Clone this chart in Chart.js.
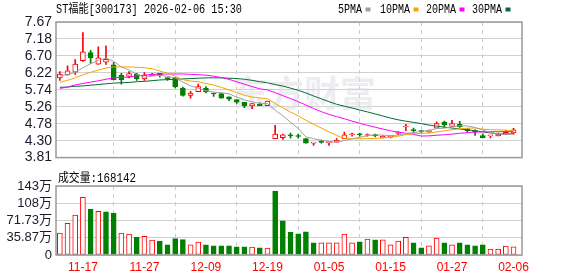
<!DOCTYPE html>
<html><head><meta charset="utf-8">
<script src="https://cdn.jsdelivr.net/npm/chart.js@4.4.1/dist/chart.umd.min.js"></script>
<style>
html,body{margin:0;padding:0;background:#fff;}
#wrap{position:relative;width:578px;height:276px;overflow:hidden;background:#fff;}
#c1{position:absolute;left:0;top:0;}
#c2{position:absolute;left:0;top:170px;}
</style></head><body>
<div id="wrap">
<canvas id="c1" width="578" height="170"></canvas>
<canvas id="c2" width="578" height="106"></canvas>
</div>
<script>
// ---------- data ----------
const stockTitle = 'ST福能[300173] 2026-02-06 15:30';
const dates = ['11-12','11-13','11-14','11-17','11-18','11-19','11-20','11-21','11-24','11-25','11-26','11-27','11-28','12-01','12-02','12-03','12-04','12-05','12-08','12-09','12-10','12-11','12-12','12-15','12-16','12-17','12-18','12-19','12-23','12-24','12-25','12-26','12-29','12-30','12-31','01-05','01-06','01-07','01-08','01-09','01-12','01-13','01-14','01-15','01-16','01-19','01-20','01-21','01-22','01-23','01-26','01-27','01-28','01-29','01-30','02-02','02-03','02-04','02-05','02-06'];
const tickDates = ['11-17','11-27','12-09','12-19','01-05','01-15','01-27','02-06'];
const opens = [6.08,6.17,6.24,6.57,6.80,6.47,6.53,6.45,6.15,6.12, 6.19,6.05,6.14,6.21,6.08,6.08,5.79,5.58,5.69,5.78, 5.65,5.63,5.54,5.46,5.38,5.28,5.33,5.29,4.35,4.38, 4.44,4.42,4.35,4.22,4.27,4.235,4.25,4.35,4.46,4.47, 4.44,4.445,4.37,4.39,4.50,4.68,4.59,4.56,4.54,4.645, 4.82,4.70,4.76,4.63,4.56,4.44,4.43,4.43,4.47,4.51];
const highs = [6.26,6.42,6.60,7.37,6.86,6.96,6.99,6.52,6.21,6.26, 6.21,6.23,6.21,6.21,6.08,6.09,5.82,5.70,5.90,5.83, 5.65,5.63,5.54,5.46,5.38,5.35,5.37,5.42,4.73,4.48, 4.51,4.48,4.35,4.23,4.31,4.24,4.35,4.54,4.51,4.51, 4.49,4.48,4.44,4.42,4.55,4.76,4.65,4.58,4.59,4.83, 4.85,4.87,4.84,4.63,4.60,4.49,4.435,4.51,4.58,4.64];
const lows = [6.01,6.16,6.18,6.55,6.49,6.46,6.46,6.02,5.90,6.08, 6.01,6.01,6.14,6.10,6.01,5.79,5.56,5.50,5.69,5.65, 5.55,5.50,5.43,5.35,5.23,5.20,5.29,5.29,4.35,4.33, 4.36,4.36,4.22,4.16,4.22,4.16,4.25,4.35,4.42,4.42, 4.42,4.40,4.37,4.37,4.46,4.58,4.51,4.52,4.52,4.645, 4.67,4.70,4.67,4.53,4.44,4.37,4.37,4.43,4.47,4.48];
const closes = [6.19,6.28,6.47,6.82,6.65,6.65,6.61,6.03,6.03,6.20, 6.06,6.16,6.19,6.15,6.06,5.82,5.58,5.65,5.83,5.69, 5.62,5.50,5.47,5.39,5.28,5.35,5.29,5.42,4.48,4.46, 4.43,4.41,4.22,4.23,4.24,4.24,4.31,4.46,4.47,4.46, 4.46,4.435,4.42,4.41,4.52,4.69,4.58,4.55,4.58,4.78, 4.74,4.78,4.69,4.58,4.55,4.37,4.435,4.48,4.53,4.60];
// volume in 万 (10k lots)
const volumes = [45.5,66,83,120,95,91,90,87,45.5,43.5, 37,39,31,29,21,34,32,21,27,21, 19,19,19,17,17,16.5,15,14.5,133,71, 47,44,48,25.5,25.5,25.5,25.5,43.5,25.5,27.5, 33,31.7,31.7,21.3,29,37,25.5,15,19,35, 25.5,21.3,25.5,21.3,19,21.3,12.4,12.4,18.6,16.8142];
// volume bar direction (1 = up/red, 0 = down/green)
const volUp = [1,1,1,1,0,1,0,0,1,1, 0,1,1,0,0,0,0,1,1,0, 0,0,0,0,0,1,0,1,0,0, 0,0,0,0,1,1,1,1,1,0, 1,0,1,1,1,1,0,0,1,1, 0,1,0,0,0,0,1,1,1,1];
// moving-average values before a full window exists
const ma5Lead = [6.14,6.17,6.24,6.37];
const ma10Lead = [5.95,6.01,6.08,6.165,6.24,6.30,6.36,6.39,6.39];
const ma20Lead = [5.78,5.815,5.88,5.92,5.96,5.995,6.04,6.08,6.095,6.10,6.138,6.157,6.18,6.19,6.19,6.19,6.19,6.18,6.17];
const ma30Lead = [5.81,5.82,5.84,5.85,5.87,5.89,5.91,5.93,5.94,5.95,5.97,5.98,6.00,6.02,6.03,6.04,6.05,6.06,6.07,6.08,6.08,6.08,6.07,6.06,6.04,6.01,5.97,5.94,5.89];
const priceLabels = ['3.81','4.30','4.78','5.26','5.74','6.22','6.70','7.18','7.67'];
const priceMin = 3.81, priceMax = 7.67;
const volLabels = ['0','35.87万','71.73万','108万','143万'];
const volMax = 143.48;
const maNames = ['5PMA','10PMA','20PMA','30PMA'];

// ---------- derived ----------
const RED = '#ff0000', GREEN = '#008000';
const MA_COLORS = ['#a0a0a0','#f5a500','#ff00ff','#006b35'];
const idx = dates.map((d,i)=>i);
const tickIdx = tickDates.map(d=>dates.indexOf(d));
function ma(n, lead){
  return idx.map(i => i < n-1 ? lead[i] : closes.slice(i-n+1,i+1).reduce((a,b)=>a+b,0)/n);
}
const maSeries = [ma(5,ma5Lead), ma(10,ma10Lead), ma(20,ma20Lead), ma(30,ma30Lead)];
const upC = idx.map(i => closes[i] >= opens[i]);
const priceTickVals = priceLabels.map((l,i)=> priceMin + i*(priceMax-priceMin)/(priceLabels.length-1));
const volTickVals = volLabels.map((l,i)=> i*volMax/(volLabels.length-1));
const XMIN = -0.5, XMAX = 60.1;
const FONT_SANS = '"Liberation Sans", Arial, "Noto Sans CJK SC", sans-serif';
const FONT_MONO = '"Liberation Mono", "Noto Sans CJK SC", monospace';

const framePlugin = {id:'frame', afterDraw(c){
  const {ctx, chartArea:a} = c;
  ctx.save(); ctx.strokeStyle = '#9a9a9a'; ctx.lineWidth = 1.5;
  ctx.strokeRect(a.left, a.top, a.right-a.left, a.bottom-a.top);
  ctx.restore();
}};

const watermark = {id:'wm', beforeDatasetsDraw(c){
  const ctx = c.ctx; ctx.save();
  ctx.font = 'bold 36px "Noto Sans CJK SC", sans-serif';
  ctx.fillStyle = 'rgba(220,220,228,0.5)';
  ctx.textBaseline = 'alphabetic';
  ctx.fillText('东方财富', 232, 107);
  ctx.restore();
}};

const header = {id:'header', afterDraw(c){
  const ctx = c.ctx; ctx.save();
  ctx.fillStyle = '#000'; ctx.textBaseline = 'alphabetic';
  ctx.font = '12px ' + FONT_MONO;
  ctx.fillText(stockTitle, 56, 13, 186);
  const lx = [338,380,426,472];
  maNames.forEach((n,i)=>{
    const w = n.length*6;
    ctx.fillStyle = '#000';
    ctx.fillText(n, lx[i], 13, w);
    ctx.fillStyle = MA_COLORS[i];
    ctx.fillRect(lx[i]+w+3.5, 7.5, 5, 4);
  });
  ctx.restore();
}};

const volHeader = {id:'volHeader', afterDraw(c){
  const ctx = c.ctx; ctx.save();
  ctx.fillStyle = '#000'; ctx.textBaseline = 'alphabetic';
  ctx.font = '12px ' + FONT_MONO;
  const v = Math.round(volumes[volumes.length-1]*10000);
  ctx.fillText('成交量:' + v, 58, 12, 78);
  ctx.restore();
}};

const xScaleBase = {
  type:'linear', min:XMIN, max:XMAX, offset:false,
  afterBuildTicks: s => { s.ticks = tickIdx.map(v=>({value:v})); },
  grid:{color:'#cccccc', lineWidth:1, drawTicks:false},
  border:{display:false, dash:[4,4]}
};

// ---------- price chart ----------
new Chart(document.getElementById('c1'), {
  type:'bar',
  data:{datasets:[
    ...maSeries.map((s,k)=>({type:'line', data: idx.map(i=>({x:i,y:s[i]})), borderColor: MA_COLORS[k], borderWidth:1, pointRadius:0, tension:0, order:0})),
    {type:'bar', data: idx.map(i=>({x:i, y:[opens[i], closes[i]]})),
      backgroundColor: idx.map(i=> upC[i] ? '#ffffff' : GREEN),
      borderColor: idx.map(i=> upC[i] ? RED : GREEN),
      borderWidth:1, borderSkipped:false, barThickness:5, minBarLength:1, grouped:false, order:1},
    {type:'bar', data: idx.map(i=>({x:i, y:[lows[i], highs[i]]})),
      backgroundColor: idx.map(i=> upC[i] ? RED : GREEN),
      borderWidth:0, barThickness:1, grouped:false, order:2}
  ]},
  options:{
    responsive:false, animation:false, events:[],
    layout:{padding:{left:0, right:56, top:22, bottom:5}},
    plugins:{legend:{display:false}, tooltip:{enabled:false}},
    scales:{
      x: Object.assign({}, xScaleBase, {ticks:{display:false}, afterFit: s => { s.height = 0; }}),
      y:{min:priceMin, max:priceMax,
        afterBuildTicks: s => { s.ticks = priceTickVals.map(v=>({value:v})); },
        afterFit: s => { s.width = 56; },
        ticks:{padding:4, autoSkip:false, color:'#1a1a2a', font:{family:FONT_SANS, size:14}, callback:(v,i)=>priceLabels[i]},
        grid:{color:'#d0d0d0', lineWidth:1, drawTicks:false},
        border:{display:false}}
    }
  },
  plugins:[watermark, framePlugin, header]
});

// ---------- volume chart ----------
new Chart(document.getElementById('c2'), {
  type:'bar',
  data:{datasets:[{
    data: idx.map(i=>({x:i, y:volumes[i]})),
    backgroundColor: idx.map(i=> volUp[i] ? '#ffffff' : GREEN),
    borderColor: idx.map(i=> volUp[i] ? RED : GREEN),
    borderWidth:1, borderSkipped:false, barThickness:5, grouped:false
  }]},
  options:{
    responsive:false, animation:false, events:[],
    layout:{padding:{left:0, right:56, top:16, bottom:0}},
    plugins:{legend:{display:false}, tooltip:{enabled:false}},
    scales:{
      x: Object.assign({}, xScaleBase, {
        ticks:{display:true, padding:5, color:RED, maxRotation:0, autoSkip:false,
          font:{family:FONT_SANS, size:12}, callback: v => dates[v]},
        afterFit: s => { s.height = 21; }}),
      y:{min:0, max:volMax,
        afterBuildTicks: s => { s.ticks = volTickVals.map(v=>({value:v})); },
        afterFit: s => { s.width = 56; },
        ticks:{padding:4, autoSkip:false, color:'#1a1a2a', font:{family:FONT_SANS, size:13}, callback:(v,i)=>volLabels[i]},
        grid:{color:'#d0d0d0', lineWidth:1, drawTicks:false},
        border:{display:false}}
    }
  },
  plugins:[framePlugin, volHeader]
});
</script>
</body></html>
